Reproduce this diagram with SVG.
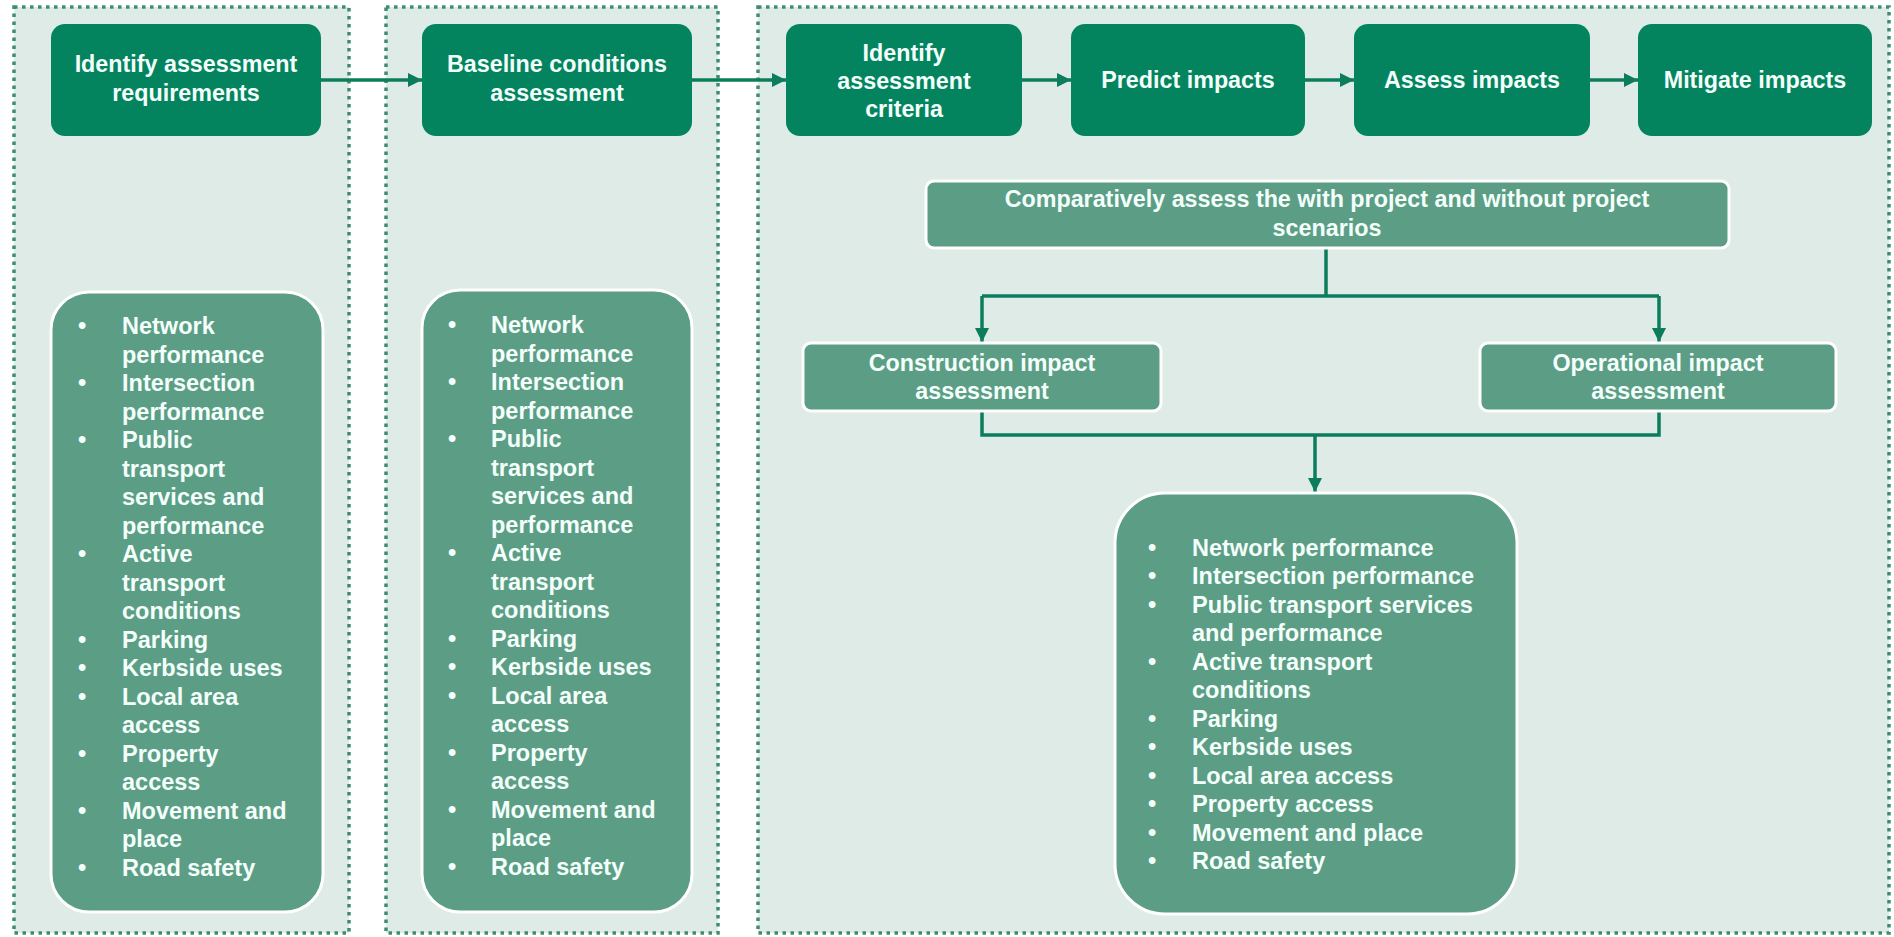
<svg xmlns="http://www.w3.org/2000/svg" width="1894" height="937" viewBox="0 0 1894 937">
  <defs>
    <marker id="arrow" viewBox="0 0 10 10" refX="10" refY="5" markerWidth="4" markerHeight="4" markerUnits="strokeWidth" orient="auto">
      <path d="M0,0 L10,5 L0,10 z" fill="#0b7d5c"/>
    </marker>
    <style>
      .panel { fill: #dfebe6; stroke: #3f8d71; stroke-width: 3.5; stroke-dasharray: 3.5 4.5; }
      .step { fill: #03845f; }
      .sub { fill: #5b9e85; stroke: #ffffff; stroke-width: 3; }
      .title { font-family: "Liberation Sans", Arial, sans-serif; font-weight: bold; font-size: 23.3px; fill: #f4fffb; text-anchor: middle; }
      .item { font-family: "Liberation Sans", Arial, sans-serif; font-weight: bold; font-size: 23.5px; fill: #f4fffb; }
      .link { fill: none; stroke: #0b7d5c; stroke-width: 3.5; }
    </style>
  </defs>
  <rect x="0" y="0" width="1894" height="937" fill="#ffffff"/>

  <!-- stage panels -->
  <g id="panels">
    <rect class="panel" x="14" y="7" width="335" height="926"/>
    <rect class="panel" x="386" y="7" width="332" height="926"/>
    <rect class="panel" x="758" y="7" width="1131" height="926"/>
  </g>

  <!-- connectors -->
  <g id="connectors">
    <line class="link" x1="321" y1="80" x2="422" y2="80" marker-end="url(#arrow)"/>
    <line class="link" x1="692" y1="80" x2="786" y2="80" marker-end="url(#arrow)"/>
    <line class="link" x1="1022" y1="80" x2="1071" y2="80" marker-end="url(#arrow)"/>
    <line class="link" x1="1305" y1="80" x2="1354" y2="80" marker-end="url(#arrow)"/>
    <line class="link" x1="1590" y1="80" x2="1638" y2="80" marker-end="url(#arrow)"/>
    <polyline class="link" points="1326,249 1326,296"/>
    <polyline class="link" points="982,296 1659,296"/>
    <line class="link" x1="982" y1="296" x2="982" y2="342" marker-end="url(#arrow)"/>
    <line class="link" x1="1659" y1="296" x2="1659" y2="342" marker-end="url(#arrow)"/>
    <polyline class="link" points="982,411 982,435 1659,435 1659,411"/>
    <line class="link" x1="1315" y1="435" x2="1315" y2="492" marker-end="url(#arrow)"/>
  </g>

  <g id="identify-requirements">
    <rect class="step" x="51" y="24" width="270" height="112" rx="14"/>
    <text class="title" x="186" y="72">Identify assessment</text>
    <text class="title" x="186" y="101">requirements</text>
  </g>

  <g id="baseline-conditions">
    <rect class="step" x="422" y="24" width="270" height="112" rx="14"/>
    <text class="title" x="557" y="72">Baseline conditions</text>
    <text class="title" x="557" y="101">assessment</text>
  </g>

  <g id="identify-criteria">
    <rect class="step" x="786" y="24" width="236" height="112" rx="14"/>
    <text class="title" x="904" y="61">Identify</text>
    <text class="title" x="904" y="89">assessment</text>
    <text class="title" x="904" y="117">criteria</text>
  </g>

  <g id="predict-impacts">
    <rect class="step" x="1071" y="24" width="234" height="112" rx="14"/>
    <text class="title" x="1188" y="88">Predict impacts</text>
  </g>

  <g id="assess-impacts">
    <rect class="step" x="1354" y="24" width="236" height="112" rx="14"/>
    <text class="title" x="1472" y="88">Assess impacts</text>
  </g>

  <g id="mitigate-impacts">
    <rect class="step" x="1638" y="24" width="234" height="112" rx="14"/>
    <text class="title" x="1755" y="88">Mitigate impacts</text>
  </g>

  <g id="compare-scenarios">
    <rect class="sub" x="926" y="181" width="803" height="67" rx="8"/>
    <text class="title" x="1327" y="207">Comparatively assess the with project and without project</text>
    <text class="title" x="1327" y="236">scenarios</text>
  </g>

  <g id="construction-impact">
    <rect class="sub" x="803" y="343" width="358" height="68" rx="8"/>
    <text class="title" x="982" y="371">Construction impact</text>
    <text class="title" x="982" y="399">assessment</text>
  </g>

  <g id="operational-impact">
    <rect class="sub" x="1480" y="343" width="356" height="68" rx="8"/>
    <text class="title" x="1658" y="371">Operational impact</text>
    <text class="title" x="1658" y="399">assessment</text>
  </g>

  <g id="requirements-list">
    <rect class="sub" x="51" y="292" width="272" height="620" rx="38"/>
    <text class="item">
      <tspan x="78" y="334">•</tspan><tspan x="122" y="334">Network</tspan>
      <tspan x="122" y="362.5">performance</tspan>
      <tspan x="78" y="391">•</tspan><tspan x="122" y="391">Intersection</tspan>
      <tspan x="122" y="419.5">performance</tspan>
      <tspan x="78" y="448">•</tspan><tspan x="122" y="448">Public</tspan>
      <tspan x="122" y="476.5">transport</tspan>
      <tspan x="122" y="505">services and</tspan>
      <tspan x="122" y="533.5">performance</tspan>
      <tspan x="78" y="562">•</tspan><tspan x="122" y="562">Active</tspan>
      <tspan x="122" y="590.5">transport</tspan>
      <tspan x="122" y="619">conditions</tspan>
      <tspan x="78" y="647.5">•</tspan><tspan x="122" y="647.5">Parking</tspan>
      <tspan x="78" y="676">•</tspan><tspan x="122" y="676">Kerbside uses</tspan>
      <tspan x="78" y="704.5">•</tspan><tspan x="122" y="704.5">Local area</tspan>
      <tspan x="122" y="733">access</tspan>
      <tspan x="78" y="761.5">•</tspan><tspan x="122" y="761.5">Property</tspan>
      <tspan x="122" y="790">access</tspan>
      <tspan x="78" y="818.5">•</tspan><tspan x="122" y="818.5">Movement and</tspan>
      <tspan x="122" y="847">place</tspan>
      <tspan x="78" y="875.5">•</tspan><tspan x="122" y="875.5">Road safety</tspan>
    </text>
  </g>

  <g id="baseline-list">
    <rect class="sub" x="422" y="290" width="270" height="622" rx="38"/>
    <text class="item">
      <tspan x="448" y="333">•</tspan><tspan x="491" y="333">Network</tspan>
      <tspan x="491" y="361.5">performance</tspan>
      <tspan x="448" y="390">•</tspan><tspan x="491" y="390">Intersection</tspan>
      <tspan x="491" y="418.5">performance</tspan>
      <tspan x="448" y="447">•</tspan><tspan x="491" y="447">Public</tspan>
      <tspan x="491" y="475.5">transport</tspan>
      <tspan x="491" y="504">services and</tspan>
      <tspan x="491" y="532.5">performance</tspan>
      <tspan x="448" y="561">•</tspan><tspan x="491" y="561">Active</tspan>
      <tspan x="491" y="589.5">transport</tspan>
      <tspan x="491" y="618">conditions</tspan>
      <tspan x="448" y="646.5">•</tspan><tspan x="491" y="646.5">Parking</tspan>
      <tspan x="448" y="675">•</tspan><tspan x="491" y="675">Kerbside uses</tspan>
      <tspan x="448" y="703.5">•</tspan><tspan x="491" y="703.5">Local area</tspan>
      <tspan x="491" y="732">access</tspan>
      <tspan x="448" y="760.5">•</tspan><tspan x="491" y="760.5">Property</tspan>
      <tspan x="491" y="789">access</tspan>
      <tspan x="448" y="817.5">•</tspan><tspan x="491" y="817.5">Movement and</tspan>
      <tspan x="491" y="846">place</tspan>
      <tspan x="448" y="874.5">•</tspan><tspan x="491" y="874.5">Road safety</tspan>
    </text>
  </g>

  <g id="impact-list">
    <rect class="sub" x="1115" y="493" width="402" height="421" rx="50"/>
    <text class="item">
      <tspan x="1148" y="555.5">•</tspan><tspan x="1192" y="555.5">Network performance</tspan>
      <tspan x="1148" y="584">•</tspan><tspan x="1192" y="584">Intersection performance</tspan>
      <tspan x="1148" y="612.5">•</tspan><tspan x="1192" y="612.5">Public transport services</tspan>
      <tspan x="1192" y="641">and performance</tspan>
      <tspan x="1148" y="669.5">•</tspan><tspan x="1192" y="669.5">Active transport</tspan>
      <tspan x="1192" y="698">conditions</tspan>
      <tspan x="1148" y="726.5">•</tspan><tspan x="1192" y="726.5">Parking</tspan>
      <tspan x="1148" y="755">•</tspan><tspan x="1192" y="755">Kerbside uses</tspan>
      <tspan x="1148" y="783.5">•</tspan><tspan x="1192" y="783.5">Local area access</tspan>
      <tspan x="1148" y="812">•</tspan><tspan x="1192" y="812">Property access</tspan>
      <tspan x="1148" y="840.5">•</tspan><tspan x="1192" y="840.5">Movement and place</tspan>
      <tspan x="1148" y="869">•</tspan><tspan x="1192" y="869">Road safety</tspan>
    </text>
  </g>
</svg>
